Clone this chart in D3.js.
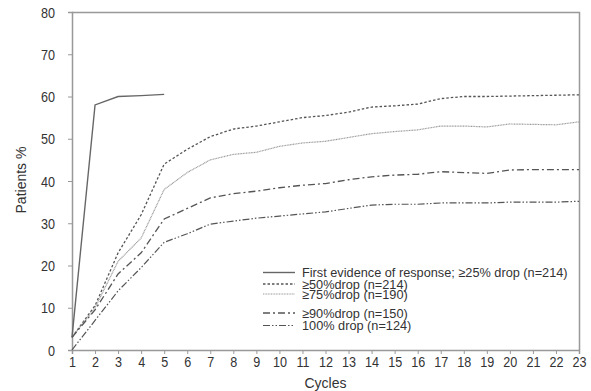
<!DOCTYPE html>
<html>
<head>
<meta charset="utf-8">
<script src="https://cdn.jsdelivr.net/npm/d3@7"></script>
<style>
  body { margin: 0; background: #fff; }
  text { font-family: "Liberation Sans", Arial, sans-serif; fill: #333; }
</style>
</head>
<body>
<div id="root"></div>
<script>
// data
var cycles = d3.range(1, 24)
var firstResponse = [3, 58, 60, 60.2, 60.5]
var drop50 = [3, 10.5, 23, 32, 44, 47.5, 50.5, 52.3, 53, 54, 55, 55.5, 56.3, 57.5, 57.8, 58.2, 59.5, 60, 60, 60.1, 60.2, 60.3, 60.4]
var drop75 = [3, 10, 21, 26.5, 38, 42, 45, 46.3, 46.8, 48.2, 49, 49.4, 50.3, 51.2, 51.7, 52.1, 53, 53, 52.8, 53.5, 53.4, 53.3, 54]
var drop90 = [3, 9.5, 18, 23, 31, 33.5, 36, 37, 37.6, 38.4, 39, 39.4, 40.3, 41, 41.4, 41.6, 42.2, 42, 41.8, 42.6, 42.7, 42.7, 42.7]
var drop100 = [0, 7, 14, 19.5, 25.5, 27.5, 29.8, 30.5, 31.2, 31.7, 32.2, 32.7, 33.5, 34.3, 34.5, 34.5, 34.8, 34.8, 34.8, 35, 35, 35, 35.2]
var seriesNames = [
    'First evidence of response; \u226525% drop (n=214)',
    '\u226550%drop (n=214)',
    '\u226575%drop (n=190)',
    '\u226590%drop (n=150)',
    '100% drop (n=124)'
]
var yTicks = [0, 10, 20, 30, 40, 50, 60, 70, 80]

// line styles
var styles = [
    { color: '#666', width: 1.4, dash: null },
    { color: '#555', width: 1.3, dash: '2.5,2' },
    { color: '#999', width: 1.2, dash: '1,0.6' },
    { color: '#555', width: 1.3, dash: '7,3,2,3' },
    { color: '#555', width: 1.2, dash: '7,2,1.5,2,1.5,2' }
]

var width = 591, height = 391
var marginLeft = 72, marginTop = 12, marginRight = 12, marginBottom = 41
var W = width - marginLeft - marginRight
var H = height - marginTop - marginBottom

var svg = d3.select('#root').append('svg')
    .attr('width', width)
    .attr('height', height)

var X = d3.scaleLinear().domain([1, 23]).range([0, W])
var Y = d3.scaleLinear().domain([0, 80]).range([H, 0])

var g = svg.append('g')
    .attr('transform', 'translate(' + marginLeft + ',' + marginTop + ')')

// frame top + right
g.append('path')
    .attr('d', 'M0,0.5H' + (W + 0.5) + 'V' + H)
    .attr('fill', 'none')
    .attr('stroke', '#999')
    .attr('stroke-width', 1.5)

// axes
var yAxis = g.append('g').call(d3.axisLeft(Y).tickValues(yTicks).tickSize(4).tickPadding(5))
var xAxis = g.append('g')
    .attr('transform', 'translate(0,' + H + ')')
    .call(d3.axisBottom(X).tickValues(cycles).tickSize(4).tickPadding(3).tickFormat(d3.format('d')))
;[yAxis, xAxis].forEach(function (ax) {
    ax.select('.domain').attr('stroke', '#999').attr('stroke-width', 1.5)
    ax.selectAll('.tick line').attr('stroke', '#999')
    ax.selectAll('.tick text').attr('font-size', 14).attr('fill', '#333')
        .style('font-family', '"Liberation Sans", Arial, sans-serif')
})
// narrower digits like the original type
yAxis.selectAll('.tick text').attr('dy', '0.36em')
    .attr('transform', 'translate(-9,0) scale(0.9,1)')
xAxis.selectAll('.tick text').attr('transform', 'scale(0.9,1)')

// axis titles
svg.append('text')
    .attr('x', marginLeft + W / 2)
    .attr('y', 388)
    .attr('text-anchor', 'middle')
    .attr('font-size', 14)
    .text('Cycles')
svg.append('text')
    .attr('transform', 'translate(26,180) rotate(-90)')
    .attr('text-anchor', 'middle')
    .attr('font-size', 14)
    .text('Patients %')

// lines
var allSeries = [firstResponse, drop50, drop75, drop90, drop100]
var line = d3.line()
    .x(function (d) { return X(d.c) })
    .y(function (d) { return Y(d.v) })

allSeries.forEach(function (vals, i) {
    var pts = vals.map(function (v, j) { return { c: cycles[j], v: v } })
    g.append('path')
        .datum(pts)
        .attr('d', line)
        .attr('fill', 'none')
        .attr('stroke', styles[i].color)
        .attr('stroke-width', styles[i].width)
        .attr('stroke-dasharray', styles[i].dash)
})

// legend
var legendRows = [0, 11.5, 21.5, 40.5, 53]
var legend = svg.append('g').attr('transform', 'translate(263,272.5)')
seriesNames.forEach(function (name, i) {
    var row = legend.append('g').attr('transform', 'translate(0,' + legendRows[i] + ')')
    row.append('line')
        .attr('x1', 0).attr('x2', 32)
        .attr('stroke', styles[i].color)
        .attr('stroke-width', styles[i].width)
        .attr('stroke-dasharray', styles[i].dash)
    row.append('text')
        .attr('transform', 'translate(39,4.5) scale(0.98,1)')
        .attr('font-size', 13)
        .text(name)
})
</script>
</body>
</html>
